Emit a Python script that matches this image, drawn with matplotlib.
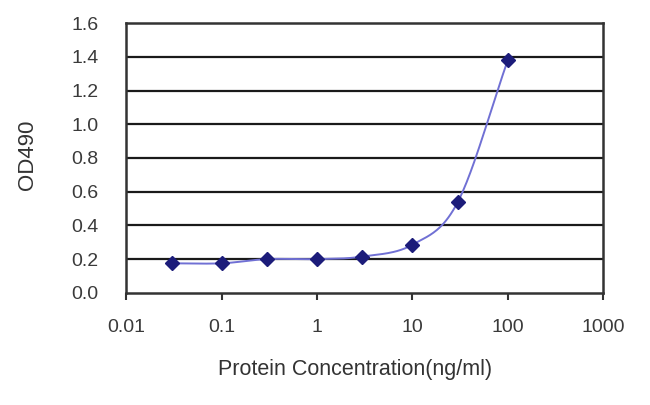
import numpy as np
import matplotlib.pyplot as plt

plt.rcParams['font.family'] = ['Liberation Sans', 'DejaVu Sans']

# data
conc = [0.03, 0.1, 0.3, 1, 3, 10, 30, 100]
od490 = [0.175, 0.175, 0.20, 0.20, 0.215, 0.285, 0.54, 1.38]
xticks = [0.01, 0.1, 1, 10, 100, 1000]
xtick_labels = ['0.01', '0.1', '1', '10', '100', '1000']
yticks = [0.0, 0.2, 0.4, 0.6, 0.8, 1.0, 1.2, 1.4, 1.6]


def catmull_rom(x, y, n=40):
    # smooth line through points (like a spreadsheet "smoothed line")
    x = np.asarray(x, float)
    y = np.asarray(y, float)
    px = np.concatenate([[2 * x[0] - x[1]], x, [2 * x[-1] - x[-2]]])
    py = np.concatenate([[2 * y[0] - y[1]], y, [2 * y[-1] - y[-2]]])
    xs, ys = [], []
    t = np.linspace(0, 1, n)
    for i in range(1, len(px) - 2):
        for p, out in ((px, xs), (py, ys)):
            p0, p1, p2, p3 = p[i - 1], p[i], p[i + 1], p[i + 2]
            out.append(0.5 * (2 * p1 + (-p0 + p2) * t
                              + (2 * p0 - 5 * p1 + 4 * p2 - p3) * t ** 2
                              + (-p0 + 3 * p1 - 3 * p2 + p3) * t ** 3))
    return np.concatenate(xs), np.concatenate(ys)


lx, ly = catmull_rom(np.log10(conc), od490)

fig = plt.figure(figsize=(6.5, 4.05), dpi=100)
ax = fig.add_axes([0.194, 0.277, 0.734, 0.666])

for yv in yticks[1:-1]:
    ax.axhline(yv, color='#1a1a1a', lw=1.6, zorder=1)

ax.plot(10 ** lx, ly, color='#7070d4', lw=1.4, zorder=2)
ax.plot(conc, od490, 'D', color='#1c1c7a', ms=7.5, zorder=3)

ax.set_xscale('log')
ax.set_xlim(0.01, 1000)
ax.set_ylim(0, 1.6)
ax.set_xticks(xticks)
ax.set_xticklabels(xtick_labels)
ax.minorticks_off()
ax.set_yticks(yticks)
ax.set_yticklabels(['%.1f' % v for v in yticks])

for s in ax.spines.values():
    s.set_color('#333333')
    s.set_linewidth(1.8)

ax.tick_params(axis='x', direction='out', length=5, width=1.5, color='#333333',
               labelsize=14, labelcolor='#3a3a3a', pad=14)
ax.tick_params(axis='y', direction='out', length=0, labelsize=14,
               labelcolor='#3a3a3a', pad=20)

ax.set_xlabel('Protein Concentration(ng/ml)', fontsize=15.5, color='#333333')
ax.set_ylabel('OD490', fontsize=16, color='#333333')
ax.xaxis.label.set_va('center')
ax.yaxis.label.set_va('center')
ax.xaxis.set_label_coords(355 / 650, 35 / 405, transform=fig.transFigure)
ax.yaxis.set_label_coords(27 / 650, 250 / 405, transform=fig.transFigure)

fig.savefig('out.png', dpi=100)
